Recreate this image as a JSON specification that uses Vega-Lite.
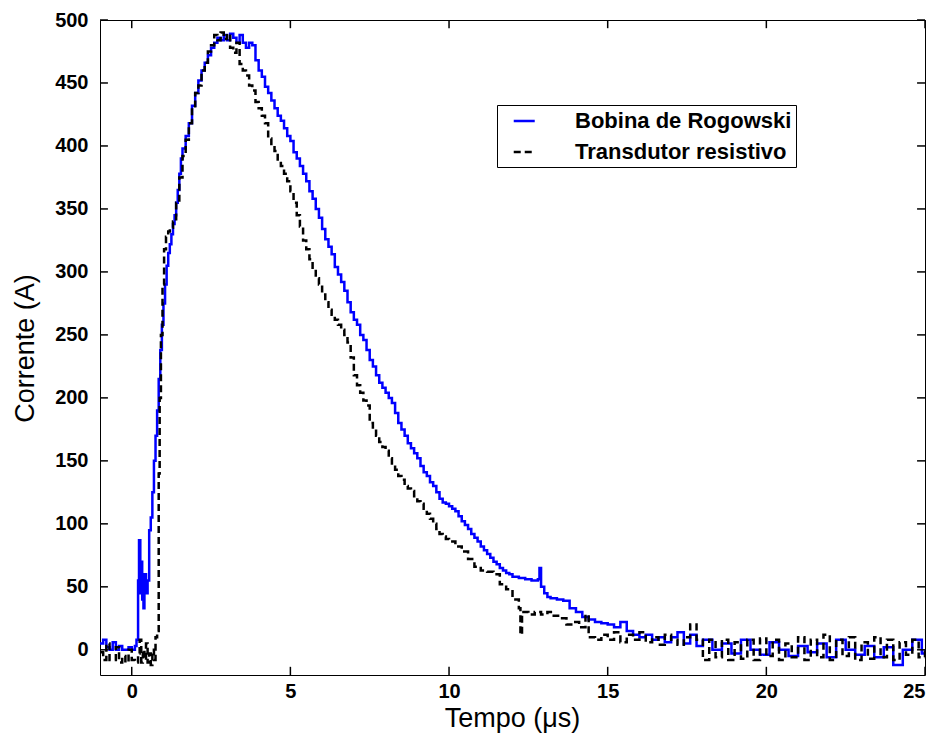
{
  "$schema": "https://vega.github.io/schema/vega-lite/v6.json",
  "autosize": "none",
  "width": 825,
  "height": 655,
  "padding": {"left": 100, "top": 20, "right": 15, "bottom": 65},
  "background": "white",
  "config": {
    "view": {"stroke": "black", "strokeWidth": 1},
    "axis": {
      "domain": false,
      "ticks": false,
      "grid": false,
      "labelColor": "black",
      "titleColor": "black",
      "labelFont": "Liberation Sans",
      "labelFontWeight": "bold",
      "labelFontSize": 20,
      "titleFont": "Liberation Sans",
      "titleFontWeight": "normal",
      "titleFontSize": 27
    }
  },
  "datasets": {
    "xticks": [{"v":0},{"v":5},{"v":10},{"v":15},{"v":20},{"v":25}],
    "yticks": [{"v":0},{"v":50},{"v":100},{"v":150},{"v":200},{"v":250},{"v":300},{"v":350},{"v":400},{"v":450},{"v":500}],
    "curves": [
      {"s":"R","t":-1.0,"i":5},{"s":"R","t":-0.9,"i":8},{"s":"R","t":-0.8,"i":2},{"s":"R","t":-0.7,"i":0},{"s":"R","t":-0.6,"i":6},{"s":"R","t":-0.5,"i":0},{"s":"R","t":-0.4,"i":3},{"s":"R","t":-0.3,"i":0},{"s":"R","t":-0.2,"i":0},{"s":"R","t":-0.1,"i":2},{"s":"R","t":0.0,"i":0},{"s":"R","t":0.1,"i":3},{"s":"R","t":0.15,"i":8},{"s":"R","t":0.2,"i":55},{"s":"R","t":0.23,"i":87},{"s":"R","t":0.27,"i":45},{"s":"R","t":0.3,"i":70},{"s":"R","t":0.33,"i":40},{"s":"R","t":0.37,"i":33},{"s":"R","t":0.4,"i":60},{"s":"R","t":0.45,"i":45},{"s":"R","t":0.5,"i":55},{"s":"R","t":0.55,"i":95},{"s":"R","t":0.6,"i":105},{"s":"R","t":0.65,"i":125},{"s":"R","t":0.7,"i":150},{"s":"R","t":0.75,"i":170},{"s":"R","t":0.8,"i":190},{"s":"R","t":0.85,"i":215},{"s":"R","t":0.9,"i":238},{"s":"R","t":0.95,"i":258},{"s":"R","t":1.0,"i":275},{"s":"R","t":1.05,"i":290},{"s":"R","t":1.1,"i":305},{"s":"R","t":1.15,"i":315},{"s":"R","t":1.2,"i":322},{"s":"R","t":1.25,"i":330},{"s":"R","t":1.3,"i":338},{"s":"R","t":1.35,"i":345},{"s":"R","t":1.4,"i":355},{"s":"R","t":1.45,"i":365},{"s":"R","t":1.5,"i":378},{"s":"R","t":1.55,"i":390},{"s":"R","t":1.6,"i":398},{"s":"R","t":1.7,"i":408},{"s":"R","t":1.8,"i":418},{"s":"R","t":1.9,"i":432},{"s":"R","t":2.0,"i":442},{"s":"R","t":2.1,"i":452},{"s":"R","t":2.2,"i":460},{"s":"R","t":2.3,"i":466},{"s":"R","t":2.4,"i":472},{"s":"R","t":2.5,"i":478},{"s":"R","t":2.6,"i":482},{"s":"R","t":2.7,"i":486},{"s":"R","t":2.8,"i":484},{"s":"R","t":2.9,"i":488},{"s":"R","t":3.0,"i":484},{"s":"R","t":3.1,"i":489},{"s":"R","t":3.2,"i":486},{"s":"R","t":3.3,"i":482},{"s":"R","t":3.4,"i":488},{"s":"R","t":3.5,"i":482},{"s":"R","t":3.6,"i":478},{"s":"R","t":3.7,"i":482},{"s":"R","t":3.8,"i":480},{"s":"R","t":3.9,"i":468},{"s":"R","t":4.0,"i":460},{"s":"R","t":4.1,"i":455},{"s":"R","t":4.2,"i":447},{"s":"R","t":4.3,"i":442},{"s":"R","t":4.4,"i":436},{"s":"R","t":4.5,"i":430},{"s":"R","t":4.6,"i":424},{"s":"R","t":4.7,"i":420},{"s":"R","t":4.8,"i":414},{"s":"R","t":4.9,"i":408},{"s":"R","t":5.0,"i":404},{"s":"R","t":5.1,"i":395},{"s":"R","t":5.2,"i":390},{"s":"R","t":5.3,"i":384},{"s":"R","t":5.4,"i":378},{"s":"R","t":5.5,"i":372},{"s":"R","t":5.6,"i":364},{"s":"R","t":5.7,"i":358},{"s":"R","t":5.8,"i":350},{"s":"R","t":5.9,"i":343},{"s":"R","t":6.0,"i":334},{"s":"R","t":6.1,"i":326},{"s":"R","t":6.2,"i":320},{"s":"R","t":6.3,"i":314},{"s":"R","t":6.4,"i":304},{"s":"R","t":6.5,"i":298},{"s":"R","t":6.6,"i":292},{"s":"R","t":6.7,"i":285},{"s":"R","t":6.8,"i":276},{"s":"R","t":6.9,"i":268},{"s":"R","t":7.0,"i":262},{"s":"R","t":7.1,"i":258},{"s":"R","t":7.2,"i":250},{"s":"R","t":7.3,"i":246},{"s":"R","t":7.4,"i":238},{"s":"R","t":7.5,"i":230},{"s":"R","t":7.6,"i":225},{"s":"R","t":7.7,"i":218},{"s":"R","t":7.8,"i":212},{"s":"R","t":7.9,"i":208},{"s":"R","t":8.0,"i":204},{"s":"R","t":8.1,"i":200},{"s":"R","t":8.2,"i":196},{"s":"R","t":8.3,"i":188},{"s":"R","t":8.4,"i":180},{"s":"R","t":8.5,"i":175},{"s":"R","t":8.6,"i":170},{"s":"R","t":8.7,"i":164},{"s":"R","t":8.8,"i":160},{"s":"R","t":8.9,"i":156},{"s":"R","t":9.0,"i":152},{"s":"R","t":9.1,"i":146},{"s":"R","t":9.2,"i":141},{"s":"R","t":9.3,"i":138},{"s":"R","t":9.4,"i":133},{"s":"R","t":9.5,"i":130},{"s":"R","t":9.6,"i":125},{"s":"R","t":9.7,"i":120},{"s":"R","t":9.8,"i":117},{"s":"R","t":9.9,"i":116},{"s":"R","t":10.0,"i":114},{"s":"R","t":10.1,"i":112},{"s":"R","t":10.2,"i":110},{"s":"R","t":10.3,"i":106},{"s":"R","t":10.4,"i":102},{"s":"R","t":10.5,"i":99},{"s":"R","t":10.6,"i":96},{"s":"R","t":10.7,"i":92},{"s":"R","t":10.8,"i":89},{"s":"R","t":10.9,"i":86},{"s":"R","t":11.0,"i":82},{"s":"R","t":11.1,"i":79},{"s":"R","t":11.2,"i":76},{"s":"R","t":11.3,"i":73},{"s":"R","t":11.4,"i":70},{"s":"R","t":11.5,"i":68},{"s":"R","t":11.6,"i":65},{"s":"R","t":11.7,"i":63},{"s":"R","t":11.8,"i":61},{"s":"R","t":11.9,"i":60},{"s":"R","t":12.0,"i":58},{"s":"R","t":12.2,"i":57},{"s":"R","t":12.4,"i":56},{"s":"R","t":12.6,"i":55},{"s":"R","t":12.8,"i":56},{"s":"R","t":12.85,"i":65},{"s":"R","t":12.9,"i":50},{"s":"R","t":13.0,"i":45},{"s":"R","t":13.1,"i":42},{"s":"R","t":13.2,"i":41},{"s":"R","t":13.4,"i":40},{"s":"R","t":13.6,"i":39},{"s":"R","t":13.8,"i":33},{"s":"R","t":14.0,"i":30},{"s":"R","t":14.2,"i":26},{"s":"R","t":14.4,"i":24},{"s":"R","t":14.6,"i":22},{"s":"R","t":14.8,"i":21},{"s":"R","t":15.0,"i":20},{"s":"R","t":15.2,"i":18},{"s":"R","t":15.4,"i":22},{"s":"R","t":15.6,"i":15},{"s":"R","t":15.8,"i":12},{"s":"R","t":16.0,"i":10},{"s":"R","t":16.2,"i":12},{"s":"R","t":16.4,"i":8},{"s":"R","t":16.6,"i":10},{"s":"R","t":16.8,"i":6},{"s":"R","t":17.0,"i":10},{"s":"R","t":17.2,"i":14},{"s":"R","t":17.4,"i":5},{"s":"R","t":17.6,"i":12},{"s":"R","t":17.8,"i":3},{"s":"R","t":18.0,"i":8},{"s":"R","t":18.3,"i":0},{"s":"R","t":18.6,"i":5},{"s":"R","t":18.9,"i":-3},{"s":"R","t":19.2,"i":8},{"s":"R","t":19.5,"i":0},{"s":"R","t":19.8,"i":-4},{"s":"R","t":20.1,"i":6},{"s":"R","t":20.4,"i":0},{"s":"R","t":20.7,"i":-5},{"s":"R","t":21.0,"i":3},{"s":"R","t":21.3,"i":-2},{"s":"R","t":21.6,"i":5},{"s":"R","t":21.9,"i":-6},{"s":"R","t":22.2,"i":8},{"s":"R","t":22.5,"i":0},{"s":"R","t":22.8,"i":-4},{"s":"R","t":23.1,"i":3},{"s":"R","t":23.4,"i":-6},{"s":"R","t":23.7,"i":2},{"s":"R","t":24.0,"i":-12},{"s":"R","t":24.3,"i":0},{"s":"R","t":24.6,"i":8},{"s":"R","t":24.9,"i":-3},{"s":"R","t":25.0,"i":0},
      {"s":"T","t":-1.0,"i":-2},{"s":"T","t":-0.9,"i":-8},{"s":"T","t":-0.8,"i":5},{"s":"T","t":-0.7,"i":-8},{"s":"T","t":-0.6,"i":-8},{"s":"T","t":-0.5,"i":2},{"s":"T","t":-0.4,"i":-10},{"s":"T","t":-0.3,"i":-5},{"s":"T","t":-0.2,"i":-10},{"s":"T","t":-0.1,"i":0},{"s":"T","t":0.0,"i":-8},{"s":"T","t":0.1,"i":-10},{"s":"T","t":0.2,"i":-3},{"s":"T","t":0.25,"i":8},{"s":"T","t":0.3,"i":-10},{"s":"T","t":0.35,"i":0},{"s":"T","t":0.4,"i":-8},{"s":"T","t":0.45,"i":5},{"s":"T","t":0.5,"i":-10},{"s":"T","t":0.55,"i":-3},{"s":"T","t":0.6,"i":-12},{"s":"T","t":0.65,"i":0},{"s":"T","t":0.7,"i":-8},{"s":"T","t":0.75,"i":10},{"s":"T","t":0.8,"i":15},{"s":"T","t":0.85,"i":140},{"s":"T","t":0.88,"i":200},{"s":"T","t":0.92,"i":250},{"s":"T","t":0.97,"i":290},{"s":"T","t":1.02,"i":318},{"s":"T","t":1.08,"i":328},{"s":"T","t":1.15,"i":332},{"s":"T","t":1.2,"i":335},{"s":"T","t":1.3,"i":340},{"s":"T","t":1.4,"i":355},{"s":"T","t":1.5,"i":375},{"s":"T","t":1.6,"i":392},{"s":"T","t":1.7,"i":405},{"s":"T","t":1.8,"i":418},{"s":"T","t":1.9,"i":430},{"s":"T","t":2.0,"i":442},{"s":"T","t":2.1,"i":448},{"s":"T","t":2.2,"i":460},{"s":"T","t":2.3,"i":466},{"s":"T","t":2.4,"i":475},{"s":"T","t":2.5,"i":480},{"s":"T","t":2.6,"i":488},{"s":"T","t":2.7,"i":484},{"s":"T","t":2.8,"i":490},{"s":"T","t":2.9,"i":485},{"s":"T","t":3.0,"i":489},{"s":"T","t":3.1,"i":478},{"s":"T","t":3.2,"i":474},{"s":"T","t":3.3,"i":482},{"s":"T","t":3.4,"i":465},{"s":"T","t":3.5,"i":460},{"s":"T","t":3.6,"i":456},{"s":"T","t":3.7,"i":448},{"s":"T","t":3.8,"i":444},{"s":"T","t":3.9,"i":435},{"s":"T","t":4.0,"i":430},{"s":"T","t":4.1,"i":424},{"s":"T","t":4.2,"i":418},{"s":"T","t":4.3,"i":406},{"s":"T","t":4.4,"i":400},{"s":"T","t":4.5,"i":396},{"s":"T","t":4.6,"i":388},{"s":"T","t":4.7,"i":384},{"s":"T","t":4.8,"i":378},{"s":"T","t":4.9,"i":372},{"s":"T","t":5.0,"i":364},{"s":"T","t":5.1,"i":355},{"s":"T","t":5.2,"i":345},{"s":"T","t":5.3,"i":336},{"s":"T","t":5.4,"i":325},{"s":"T","t":5.5,"i":318},{"s":"T","t":5.6,"i":310},{"s":"T","t":5.7,"i":302},{"s":"T","t":5.8,"i":295},{"s":"T","t":5.9,"i":290},{"s":"T","t":6.0,"i":282},{"s":"T","t":6.1,"i":276},{"s":"T","t":6.2,"i":270},{"s":"T","t":6.3,"i":266},{"s":"T","t":6.4,"i":262},{"s":"T","t":6.5,"i":258},{"s":"T","t":6.6,"i":254},{"s":"T","t":6.7,"i":250},{"s":"T","t":6.8,"i":244},{"s":"T","t":6.9,"i":232},{"s":"T","t":7.0,"i":218},{"s":"T","t":7.1,"i":210},{"s":"T","t":7.2,"i":204},{"s":"T","t":7.3,"i":198},{"s":"T","t":7.4,"i":194},{"s":"T","t":7.5,"i":180},{"s":"T","t":7.6,"i":175},{"s":"T","t":7.7,"i":170},{"s":"T","t":7.8,"i":165},{"s":"T","t":7.9,"i":161},{"s":"T","t":8.0,"i":158},{"s":"T","t":8.1,"i":152},{"s":"T","t":8.2,"i":148},{"s":"T","t":8.3,"i":143},{"s":"T","t":8.4,"i":138},{"s":"T","t":8.5,"i":135},{"s":"T","t":8.6,"i":130},{"s":"T","t":8.7,"i":128},{"s":"T","t":8.8,"i":126},{"s":"T","t":8.9,"i":122},{"s":"T","t":9.0,"i":118},{"s":"T","t":9.1,"i":116},{"s":"T","t":9.2,"i":112},{"s":"T","t":9.3,"i":108},{"s":"T","t":9.4,"i":104},{"s":"T","t":9.5,"i":100},{"s":"T","t":9.6,"i":96},{"s":"T","t":9.7,"i":92},{"s":"T","t":9.8,"i":90},{"s":"T","t":9.9,"i":88},{"s":"T","t":10.0,"i":86},{"s":"T","t":10.2,"i":82},{"s":"T","t":10.4,"i":78},{"s":"T","t":10.6,"i":72},{"s":"T","t":10.8,"i":66},{"s":"T","t":11.0,"i":63},{"s":"T","t":11.2,"i":62},{"s":"T","t":11.4,"i":60},{"s":"T","t":11.6,"i":52},{"s":"T","t":11.8,"i":48},{"s":"T","t":12.0,"i":40},{"s":"T","t":12.2,"i":33},{"s":"T","t":12.25,"i":12},{"s":"T","t":12.3,"i":30},{"s":"T","t":12.5,"i":28},{"s":"T","t":12.7,"i":30},{"s":"T","t":12.9,"i":28},{"s":"T","t":13.1,"i":30},{"s":"T","t":13.3,"i":27},{"s":"T","t":13.5,"i":25},{"s":"T","t":13.7,"i":20},{"s":"T","t":13.9,"i":22},{"s":"T","t":14.1,"i":18},{"s":"T","t":14.3,"i":28},{"s":"T","t":14.4,"i":10},{"s":"T","t":14.6,"i":8},{"s":"T","t":14.8,"i":12},{"s":"T","t":15.0,"i":8},{"s":"T","t":15.2,"i":14},{"s":"T","t":15.4,"i":6},{"s":"T","t":15.6,"i":12},{"s":"T","t":15.8,"i":8},{"s":"T","t":16.0,"i":14},{"s":"T","t":16.2,"i":6},{"s":"T","t":16.4,"i":10},{"s":"T","t":16.6,"i":4},{"s":"T","t":16.8,"i":12},{"s":"T","t":17.0,"i":8},{"s":"T","t":17.2,"i":4},{"s":"T","t":17.4,"i":10},{"s":"T","t":17.6,"i":20},{"s":"T","t":17.8,"i":8},{"s":"T","t":18.0,"i":-8},{"s":"T","t":18.2,"i":8},{"s":"T","t":18.4,"i":-6},{"s":"T","t":18.6,"i":8},{"s":"T","t":18.8,"i":-8},{"s":"T","t":19.0,"i":6},{"s":"T","t":19.2,"i":-7},{"s":"T","t":19.4,"i":8},{"s":"T","t":19.6,"i":-8},{"s":"T","t":19.8,"i":9},{"s":"T","t":20.0,"i":-5},{"s":"T","t":20.2,"i":8},{"s":"T","t":20.4,"i":-8},{"s":"T","t":20.6,"i":5},{"s":"T","t":20.8,"i":-6},{"s":"T","t":21.0,"i":10},{"s":"T","t":21.2,"i":-8},{"s":"T","t":21.4,"i":8},{"s":"T","t":21.6,"i":-6},{"s":"T","t":21.8,"i":12},{"s":"T","t":22.0,"i":-8},{"s":"T","t":22.2,"i":8},{"s":"T","t":22.4,"i":-5},{"s":"T","t":22.6,"i":10},{"s":"T","t":22.8,"i":-8},{"s":"T","t":23.0,"i":6},{"s":"T","t":23.2,"i":-7},{"s":"T","t":23.4,"i":10},{"s":"T","t":23.6,"i":-6},{"s":"T","t":23.8,"i":8},{"s":"T","t":24.0,"i":-8},{"s":"T","t":24.2,"i":6},{"s":"T","t":24.4,"i":-4},{"s":"T","t":24.6,"i":8},{"s":"T","t":24.8,"i":-6},{"s":"T","t":25.0,"i":0}
    ]
  },
  "layer": [
    {
      "data": {"name": "curves"},
      "mark": {"type": "line", "interpolate": "step-after", "strokeWidth": 2.5, "clip": true},
      "encoding": {
        "x": {
          "field": "t", "type": "quantitative",
          "scale": {"domain": [-1, 25], "nice": false, "zero": false},
          "axis": {"values": [0, 5, 10, 15, 20, 25], "title": "Tempo (μs)", "labelPadding": 6, "titleX": 412, "titleY": 43, "titleBaseline": "middle"}
        },
        "y": {
          "field": "i", "type": "quantitative",
          "scale": {"domain": [-20, 500], "nice": false, "zero": false},
          "axis": {"values": [0, 50, 100, 150, 200, 250, 300, 350, 400, 450, 500], "title": "Corrente (A)", "labelPadding": 12, "titleX": -75, "titleY": 328, "titleBaseline": "middle", "titleAngle": -90}
        },
        "color": {
          "field": "s", "type": "nominal",
          "scale": {"domain": ["R", "T"], "range": ["#0000ff", "#000000"]},
          "legend": {
            "title": null, "orient": "none", "legendX": 397, "legendY": 85,
            "strokeColor": "black", "fillColor": "white", "padding": 4,
            "labelExpr": "datum.label == 'R' ? 'Bobina de Rogowski' : 'Transdutor resistivo'",
            "labelFont": "Liberation Sans", "labelFontWeight": "bold", "labelFontSize": 22, "labelColor": "black", "labelLimit": 500,
            "symbolType": "M0.07,0H2.07", "symbolSize": 441, "symbolStrokeWidth": 2.5, "rowPadding": 8, "labelOffset": 50
          }
        },
        "strokeDash": {
          "field": "s", "type": "nominal",
          "scale": {"domain": ["R", "T"], "range": [[1, 0], [7, 4]]},
          "legend": {
            "title": null, "orient": "none", "legendX": 397, "legendY": 85,
            "labelExpr": "datum.label == 'R' ? 'Bobina de Rogowski' : 'Transdutor resistivo'"
          }
        }
      }
    },
    {
      "data": {"name": "xticks"},
      "mark": {"type": "rule", "color": "black", "strokeWidth": 1.5},
      "encoding": {"x": {"field": "v", "type": "quantitative"}, "y": {"datum": -20, "type": "quantitative"}, "y2": {"datum": -13.5}}
    },
    {
      "data": {"name": "xticks"},
      "mark": {"type": "rule", "color": "black", "strokeWidth": 1.5},
      "encoding": {"x": {"field": "v", "type": "quantitative"}, "y": {"datum": 500, "type": "quantitative"}, "y2": {"datum": 493.5}}
    },
    {
      "data": {"name": "yticks"},
      "mark": {"type": "rule", "color": "black", "strokeWidth": 1.5},
      "encoding": {"y": {"field": "v", "type": "quantitative"}, "x": {"datum": -1, "type": "quantitative"}, "x2": {"datum": -0.75}}
    },
    {
      "data": {"name": "yticks"},
      "mark": {"type": "rule", "color": "black", "strokeWidth": 1.5},
      "encoding": {"y": {"field": "v", "type": "quantitative"}, "x": {"datum": 25, "type": "quantitative"}, "x2": {"datum": 24.75}}
    }
  ]
}
